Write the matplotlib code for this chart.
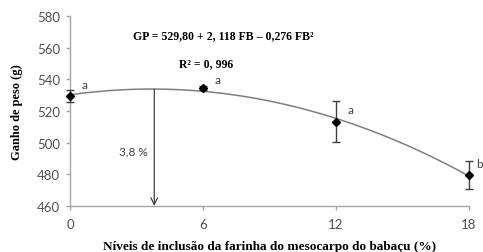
import matplotlib.pyplot as plt
import numpy as np

levels = [0, 6, 12, 18]
gain = [529.5, 534.5, 513.2, 479.6]
err = [4.0, 1.0, 13.0, 9.0]
letters = ['a', 'a', 'a', 'b']
yticks = [460, 480, 500, 520, 540, 560, 580]
optimum = 3.8

fig = plt.figure(figsize=(4.83, 2.53), dpi=100)
ax = fig.add_axes([0.145, 0.182, 0.826, 0.751])

# trendline (2nd order polynomial, like Excel)
coef = np.polyfit(levels, gain, 2)
xs = np.linspace(0, 18, 200)
ax.plot(xs, np.polyval(coef, xs), color='#7f7f7f', lw=1.1, zorder=2)

ax.errorbar(levels, gain, yerr=err, fmt='D', color='black', ms=4.5,
            ecolor='#404040', elinewidth=1, capsize=3, capthick=1, zorder=3,
            clip_on=False)

offsets = [(0.5, 7), (0.5, 5.5), (0.5, 7.5), (0.3, 7)]
for x, y, t, (dx, dy) in zip(levels, gain, letters, offsets):
    ax.text(x + dx, y + dy, t, fontsize=8.5, color='#404040', family='Lato',
            ha='left', va='center')

ytop = np.polyval(coef, optimum)
ax.annotate('', xy=(optimum, 460), xytext=(optimum, ytop),
            arrowprops=dict(arrowstyle='->', color='#404040', lw=0.9,
                            mutation_scale=12, shrinkA=0, shrinkB=0))
ax.text(optimum - 0.3, 495, '3,8 %', fontsize=8.5, color='#404040',
        family='Lato', ha='right', va='center')

ax.text(0.385, 0.9, 'GP = 529,80 + 2, 118 FB \u2013 0,276 FB\u00b2',
        transform=ax.transAxes, ha='center', va='center', fontsize=8.5,
        fontweight='bold', family='Liberation Serif')
ax.text(0.34, 0.75, 'R\u00b2 = 0, 996', transform=ax.transAxes,
        ha='center', va='center', fontsize=8.5, fontweight='bold',
        family='Liberation Serif')

ax.set_xlim(0, 18)
ax.set_ylim(460, 580)
ax.set_xticks(levels)
ax.set_yticks(yticks)
for lab in ax.get_xticklabels() + ax.get_yticklabels():
    lab.set_family('Lato')
    lab.set_fontsize(9.5)
    lab.set_color('#505050')
ax.tick_params(axis='both', color='#a6a6a6', length=3, width=1)
ax.tick_params(axis='x', pad=6)
ax.tick_params(axis='y', pad=4)
for s in ['top', 'right']:
    ax.spines[s].set_visible(False)
for s in ['left', 'bottom']:
    ax.spines[s].set_color('#a6a6a6')
    ax.spines[s].set_linewidth(1)

ax.set_ylabel('Ganho de peso (g)', family='Liberation Serif',
              fontweight='bold', fontsize=9, labelpad=10)
ax.set_xlabel('N\u00edveis de inclus\u00e3o da farinha do mesocarpo do baba\u00e7u (%)',
              family='Liberation Serif', fontweight='bold', fontsize=9.5,
              labelpad=7)
fig.savefig('out.png', dpi=100)
